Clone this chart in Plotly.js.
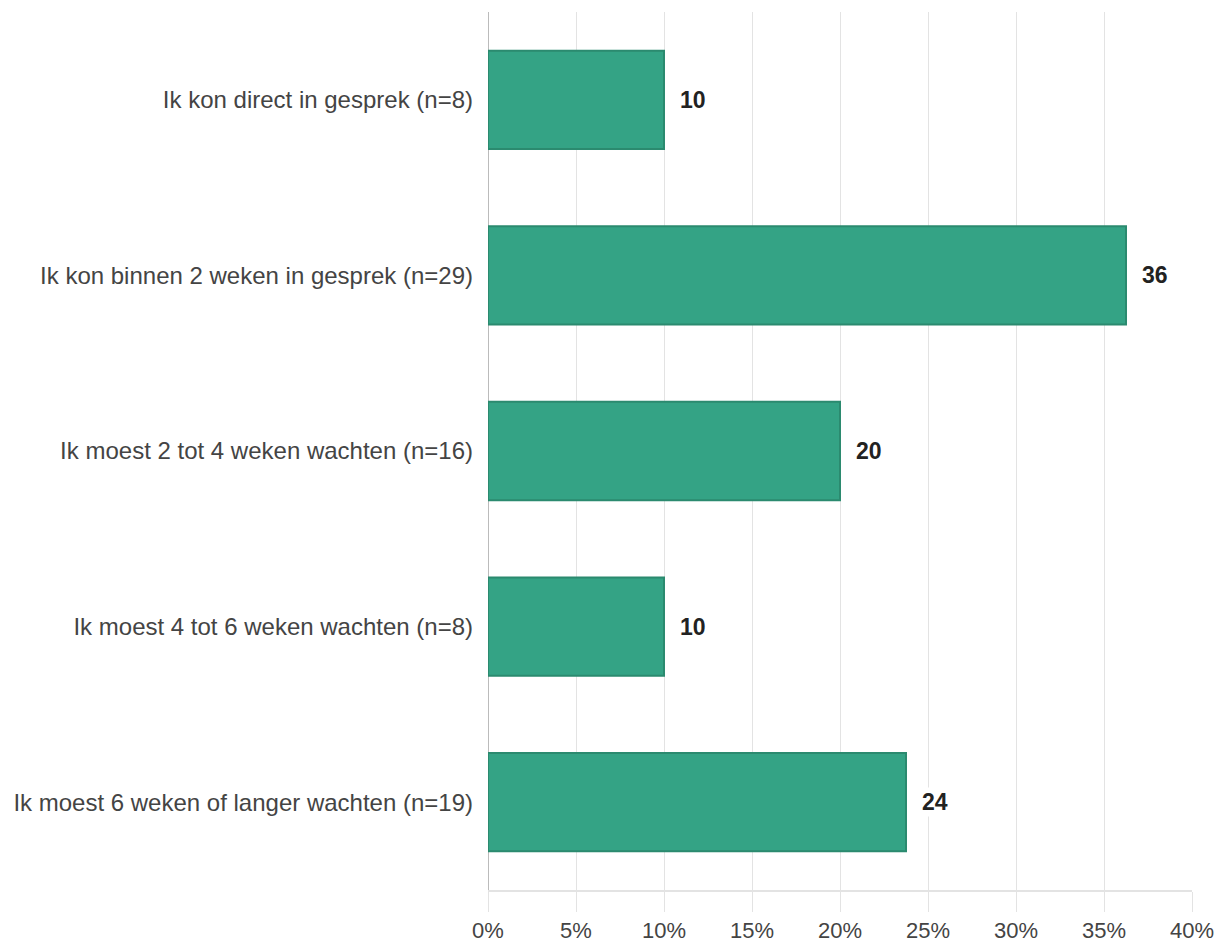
<!DOCTYPE html>
<html>
<head>
<meta charset="utf-8">
<script src="https://cdn.plot.ly/plotly-3.0.1.min.js"></script>
<style>html,body{margin:0;padding:0;background:#fff;}#chart{width:1228px;height:944px;}</style>
</head>
<body>
<div id="chart"></div>
<script>
var categories = [
  "Ik kon direct in gesprek (n=8)",
  "Ik kon binnen 2 weken in gesprek (n=29)",
  "Ik moest 2 tot 4 weken wachten (n=16)",
  "Ik moest 4 tot 6 weken wachten (n=8)",
  "Ik moest 6 weken of langer wachten (n=19)"
];
var percentages = [10, 36.25, 20, 10, 23.75];
var valueLabels = ["10", "36", "20", "10", "24"];
var xTickValues = [0, 5, 10, 15, 20, 25, 30, 35, 40];
var xTickLabels = ["0%", "5%", "10%", "15%", "20%", "25%", "30%", "35%", "40%"];

var trace = {
  type: "bar",
  orientation: "h",
  y: categories,
  x: percentages,
  width: 0.56,
  marker: {color: "#34a385", line: {color: "#2b8a6f", width: 2}},
  hoverinfo: "none"
};

var annotations = categories.map(function(c, i){
  return {
    x: percentages[i], y: c, xref: "x", yref: "y",
    text: "<b>" + valueLabels[i] + "</b>",
    showarrow: false, xanchor: "left", xshift: 14,
    bgcolor: "#ffffff",
    font: {family: "Liberation Sans, Arial, sans-serif", size: 23, color: "#222222"}
  };
});

var layout = {
  width: 1228, height: 944,
  margin: {l: 488, r: 36, t: 12, b: 54},
  paper_bgcolor: "#ffffff", plot_bgcolor: "#ffffff",
  showlegend: false,
  font: {family: "Liberation Sans, Arial, sans-serif", size: 22, color: "#444444"},
  xaxis: {
    range: [0, 40],
    tickvals: xTickValues, ticktext: xTickLabels,
    showgrid: true, gridcolor: "#e3e3e3", gridwidth: 1,
    ticks: "outside", ticklen: 20, tickcolor: "#e3e3e3",
    showline: true, linecolor: "#e3e3e3", linewidth: 2,
    zeroline: true, zerolinecolor: "#bbbbbb", zerolinewidth: 1,
    tickfont: {size: 22, color: "#444444"},
    fixedrange: true
  },
  yaxis: {
    autorange: "reversed",
    categoryorder: "array", categoryarray: categories,
    showgrid: false, zeroline: false, showline: false,
    ticks: "", ticklabelstandoff: 14,
    tickfont: {size: 24, color: "#444444"},
    fixedrange: true
  },
  annotations: annotations
};

Plotly.newPlot("chart", [trace], layout, {displayModeBar: false, staticPlot: true});
</script>
</body>
</html>
